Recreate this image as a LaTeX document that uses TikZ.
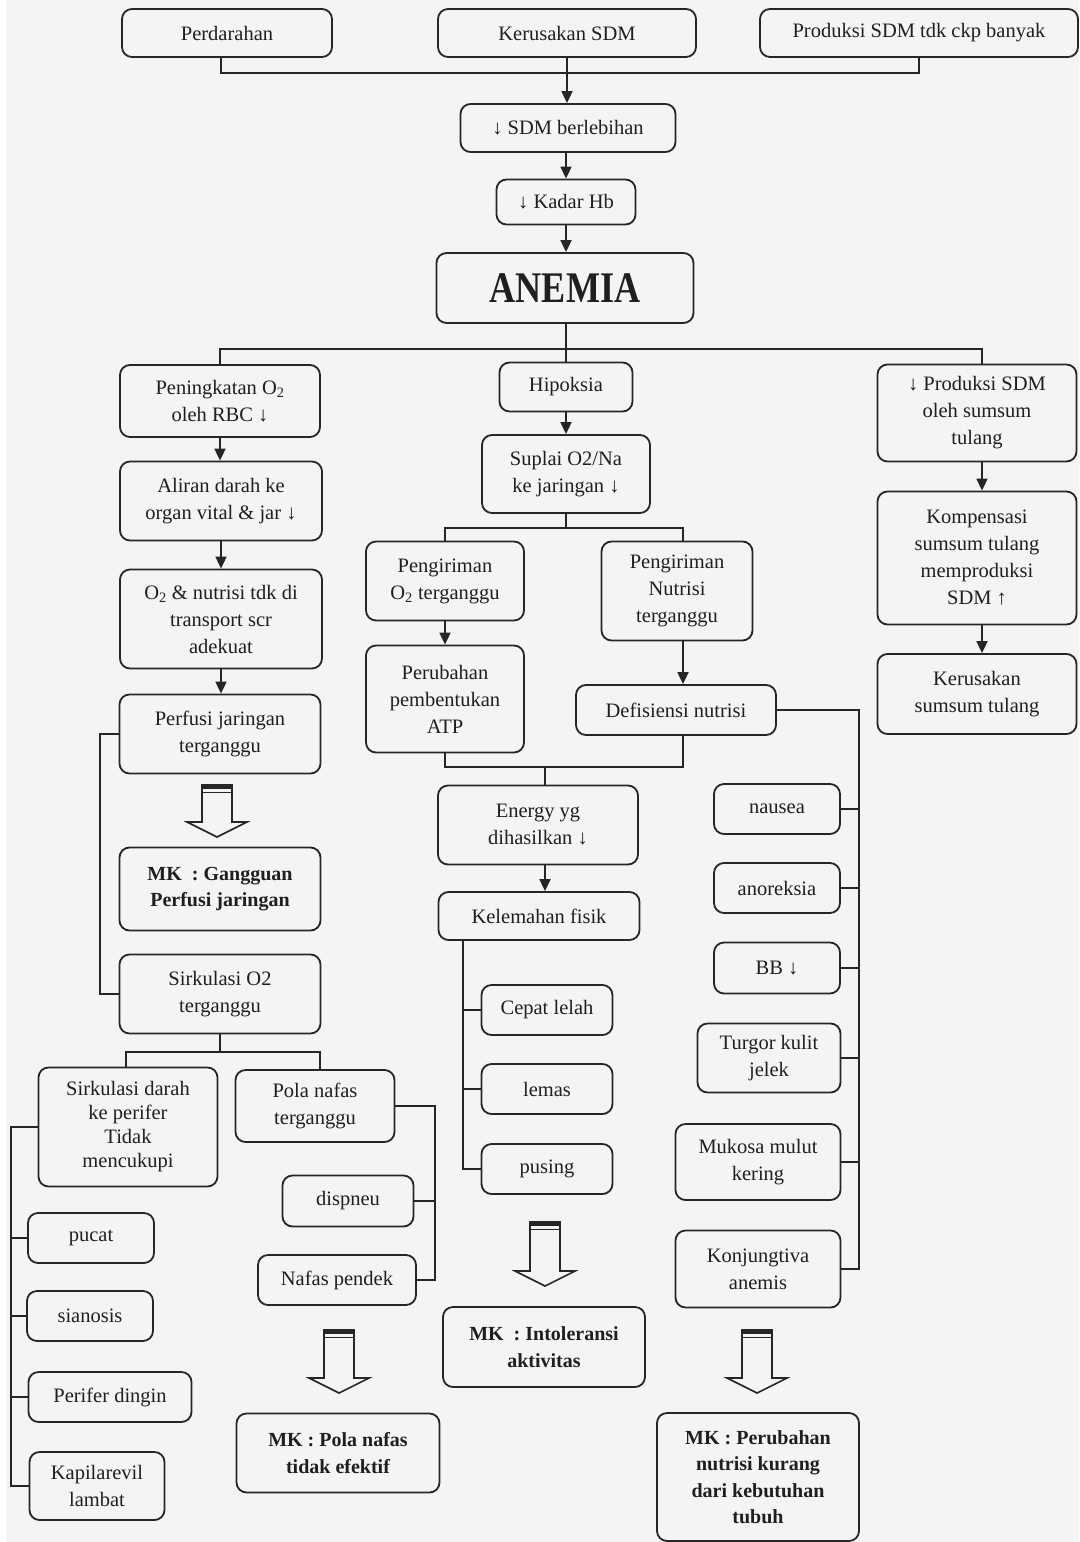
\documentclass[tikz,border=0pt]{standalone}
\usepackage{fontspec}
\setmainfont{Liberation Serif}
\usetikzlibrary{arrows.meta}
\definecolor{bg}{HTML}{F4F4F4}
\definecolor{ln}{HTML}{262626}
\begin{document}
\begin{tikzpicture}[x=1pt,y=-1pt,
  box/.style={draw=ln, line width=1.8pt, rounded corners=10pt, fill=bg, align=center, inner sep=2pt,
    font=\fontsize{20.5}{27}\selectfont, text=black!88},
  mk/.style={box, font=\fontsize{20}{26.5}\selectfont\bfseries},
  con/.style={draw=ln, line width=1.8pt},
  arr/.style={con, -{Triangle[width=11pt,length=12pt]}},
  pics/blockarrow/.style={code={
    \draw[ln, line width=1.6pt, fill=bg, line join=miter] (-15,0) -- (-15,#1) -- (-30,#1) -- (0,#1+15) -- (30,#1) -- (15,#1) -- (15,0) -- cycle;
    \fill[ln] (-15,0) rectangle (15,4);
    \draw[ln, line width=1pt] (-15,7.5) -- (15,7.5);
  }}
]
\useasboundingbox (0,0) rectangle (1079,1542);
\fill[white] (0,0) rectangle (1079,1542);
\fill[bg] (6,0) rectangle (1079,1542);

% top
\node[box, minimum width=210pt, minimum height=48pt] (perd) at (227,33) {Perdarahan};
\node[box, minimum width=258pt, minimum height=48pt] (kerus) at (567,33) {Kerusakan SDM};
\node[box, minimum width=318pt, minimum height=48pt] (prod) at (919,33) {Produksi SDM tdk ckp banyak};
\node[box, minimum width=215pt, minimum height=48pt] (sdm) at (568,128) {↓ SDM berlebihan};
\node[box, minimum width=139pt, minimum height=45pt] (hb) at (566,202) {↓ Kadar Hb};
\node[box, minimum width=257pt, minimum height=70pt, font=\fontsize{38}{40}\selectfont\bfseries] (anemia) at (565,288) {\scalebox{0.95}[1.15]{ANEMIA}};

% left column
\node[box, minimum width=200pt, minimum height=72pt] (pen) at (220,401) {Peningkatan O\textsubscript{2}\\oleh RBC ↓};
\node[box, minimum width=202pt, minimum height=79pt] (aliran) at (221,501) {Aliran darah ke\\organ vital \& jar ↓};
\node[box, minimum width=202pt, minimum height=99pt] (o2n) at (221,619) {O\textsubscript{2} \& nutrisi tdk di\\transport scr\\adekuat};
\node[box, minimum width=201pt, minimum height=79pt] (perf) at (220,734) {Perfusi jaringan\\terganggu};
\node[mk, minimum width=201pt, minimum height=83pt] (mk1) at (220,889) {MK\ \ :\ Gangguan\\Perfusi jaringan};
\node[box, minimum width=201pt, minimum height=79pt] (sirk) at (220,994) {Sirkulasi O2\\terganggu};
\node[box, minimum width=179pt, minimum height=119pt, font=\fontsize{20.5}{24}\selectfont] (sirkd) at (128,1127) {Sirkulasi darah\\ke perifer\\Tidak\\mencukupi};
\node[box, minimum width=159pt, minimum height=72pt] (pola) at (315,1106) {Pola nafas\\terganggu};
\node[box, minimum width=126pt, minimum height=50pt] (pucat) at (91,1238) {pucat};
\node[box, minimum width=126pt, minimum height=50pt] (sian) at (90,1316) {sianosis};
\node[box, minimum width=163pt, minimum height=50pt] (perif) at (110,1397) {Perifer dingin};
\node[box, minimum width=135pt, minimum height=68pt] (kapil) at (97,1486) {Kapilarevil\\lambat};
\node[box, minimum width=131pt, minimum height=51pt] (disp) at (348,1201) {dispneu};
\node[box, minimum width=158pt, minimum height=50pt] (nafp) at (337,1280) {Nafas pendek};
\node[mk, minimum width=203pt, minimum height=79pt] (mk2) at (338,1453) {MK : Pola nafas\\tidak efektif};

% middle column
\node[box, minimum width=133pt, minimum height=49pt] (hip) at (566,387) {Hipoksia};
\node[box, minimum width=168pt, minimum height=78pt] (sup) at (566,474) {Suplai O2/Na\\ke jaringan ↓};
\node[box, minimum width=158pt, minimum height=79pt] (peo2) at (445,581) {Pengiriman\\O\textsubscript{2} terganggu};
\node[box, minimum width=158pt, minimum height=107pt] (atp) at (445,699) {Perubahan\\pembentukan\\ATP};
\node[box, minimum width=151pt, minimum height=99pt] (pnut) at (677,591) {Pengiriman\\Nutrisi\\terganggu};
\node[box, minimum width=200pt, minimum height=50pt] (def) at (676,710) {Defisiensi nutrisi};
\node[box, minimum width=200pt, minimum height=79pt] (energy) at (538,825) {Energy yg\\dihasilkan ↓};
\node[box, minimum width=201pt, minimum height=48pt] (kel) at (539,916) {Kelemahan fisik};
\node[box, minimum width=131pt, minimum height=50pt] (cepat) at (547,1010) {Cepat lelah};
\node[box, minimum width=131pt, minimum height=50pt] (lemas) at (547,1089) {lemas};
\node[box, minimum width=131pt, minimum height=50pt] (pusing) at (547,1169) {pusing};
\node[mk, minimum width=202pt, minimum height=80pt] (mk3) at (544,1347) {MK\ \ : Intoleransi\\aktivitas};
\node[box, minimum width=126pt, minimum height=50pt] (nausea) at (777,809) {nausea};
\node[box, minimum width=126pt, minimum height=50pt] (anor) at (777,888) {anoreksia};
\node[box, minimum width=126pt, minimum height=51pt] (bb) at (777,968) {BB ↓};
\node[box, minimum width=143pt, minimum height=69pt] (turgor) at (769,1058) {Turgor kulit\\jelek};
\node[box, minimum width=165pt, minimum height=76pt] (mukosa) at (758,1162) {Mukosa mulut\\kering};
\node[box, minimum width=165pt, minimum height=77pt] (konj) at (758,1269) {Konjungtiva\\anemis};
\node[mk, minimum width=202pt, minimum height=128pt] (mk4) at (758,1477) {MK : Perubahan\\nutrisi kurang\\dari kebutuhan\\tubuh};

% right column
\node[box, minimum width=199pt, minimum height=97pt] (prodss) at (977,413) {↓ Produksi SDM\\oleh sumsum\\tulang};
\node[box, minimum width=199pt, minimum height=133pt] (komp) at (977,558) {Kompensasi\\sumsum tulang\\memproduksi\\SDM ↑};
\node[box, minimum width=199pt, minimum height=80pt] (kerss) at (977,694) {Kerusakan\\sumsum tulang};

% coordinates
\coordinate (t1) at (567,73);
\coordinate (tl) at (221,0);
\coordinate (a1) at (566,349);
\coordinate (rc) at (982,0);
\coordinate (lx) at (100,860);
\coordinate (s1) at (220,1052);
\coordinate (pl) at (126,0);
\coordinate (pr) at (320,0);
\coordinate (lb) at (11,1300);
\coordinate (rb) at (435,1200);
\coordinate (s2) at (566,528);
\coordinate (nx) at (683,0);
\coordinate (e1) at (545,767);
\coordinate (kx) at (463,1000);
\coordinate (dx) at (859,1000);

% top connectors
\draw[con] (perd.south -| tl) |- (t1) -| (prod.south);
\draw[arr] (kerus.south) -- (kerus.south |- sdm.north);
\draw[arr] (hb.north |- sdm.south) -- (hb.north);
\draw[arr] (hb.south) -- (hb.south |- anemia.north);
\draw[con] (anemia.south -| a1) -- (a1);
\draw[con] (pen.north) |- (a1) -| (prodss.north -| rc);
\draw[con] (a1) -- (hip.north);

% left connectors
\draw[arr] (pen.south) -- (pen.south |- aliran.north);
\draw[arr] (aliran.south) -- (aliran.south |- o2n.north);
\draw[arr] (o2n.south) -- (o2n.south |- perf.north);
\draw[con] (perf.west) -| (lx) |- (sirk.west);
\pic at (217,785) {blockarrow=37};
\draw[con] (sirk.south) -- (s1);
\draw[con] (sirkd.north -| pl) |- (s1) -| (pola.north -| pr);
\draw[con] (sirkd.west) -| (lb) |- (kapil.west);
\foreach \n in {pucat,sian,perif} \draw[con] (\n.west) -- (\n.west -| lb);
\draw[con] (pola.east) -| (rb) |- (nafp.east);
\draw[con] (disp.east) -- (disp.east -| rb);
\pic at (339,1330) {blockarrow=48};

% middle connectors
\draw[arr] (hip.south) -- (hip.south |- sup.north);
\draw[con] (sup.south) -- (s2);
\draw[con] (peo2.north) |- (s2) -| (pnut.north -| nx);
\draw[arr] (peo2.south) -- (peo2.south |- atp.north);
\draw[arr] (pnut.south -| nx) -- (def.north -| nx);
\draw[con] (atp.south) |- (e1) -| (def.south -| nx);
\draw[con] (e1) -- (e1 |- energy.north);
\draw[arr] (e1 |- energy.south) -- (e1 |- kel.north);
\draw[con] (kel.south -| kx) |- (pusing.west);
\foreach \n in {cepat,lemas} \draw[con] (\n.west) -- (\n.west -| kx);
\pic at (545,1222) {blockarrow=49};
\draw[con] (def.east) -| (dx) |- (konj.east);
\foreach \n in {nausea,anor,bb,turgor,mukosa} \draw[con] (\n.east) -- (\n.east -| dx);
\pic at (757,1330) {blockarrow=48};

% right connectors
\draw[arr] (prodss.south -| rc) -- (komp.north -| rc);
\draw[arr] (komp.south -| rc) -- (kerss.north -| rc);
\end{tikzpicture}
\end{document}
